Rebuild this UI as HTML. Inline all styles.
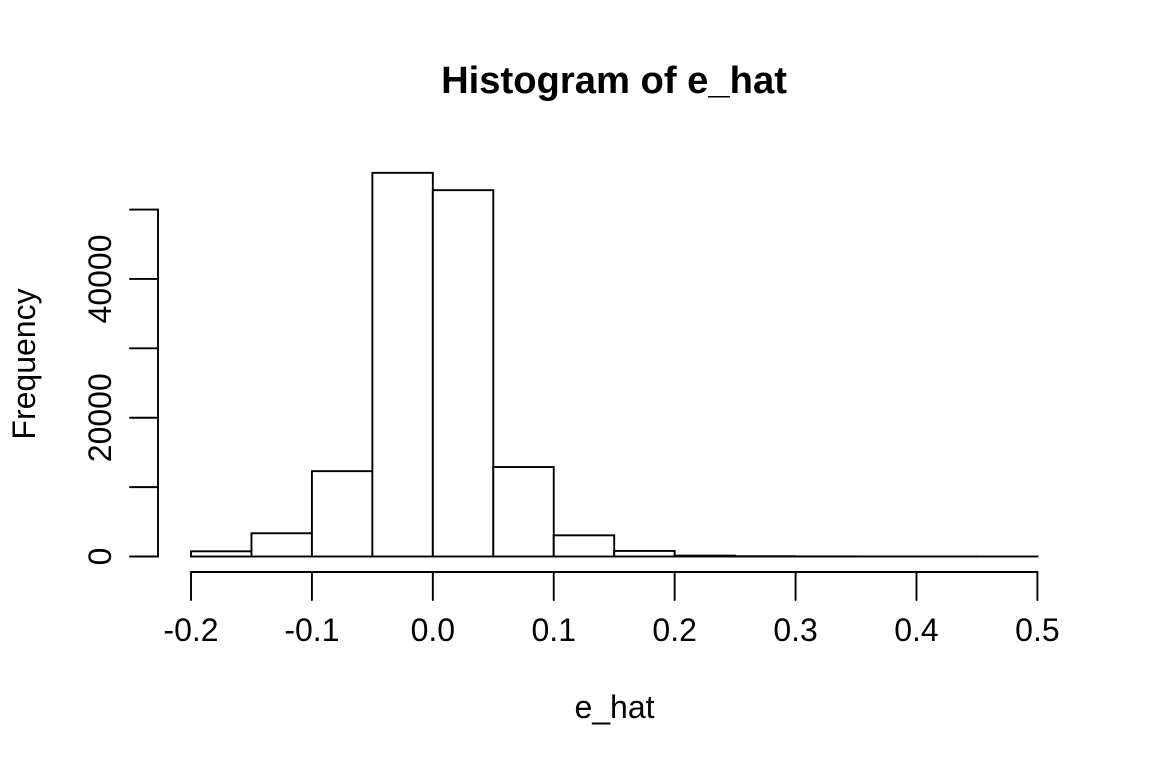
<!DOCTYPE html>
<html>
<head>
<meta charset="utf-8">
<title>Histogram of e_hat</title>
<style>
html,body{margin:0;padding:0;background:#fff;}
svg{display:block;}
text{font-family:"Liberation Sans",sans-serif;fill:#000;}
</style>
</head>
<body>
<svg id="chart" xmlns="http://www.w3.org/2000/svg" width="1152" height="768" viewBox="0 0 1152 768">
<rect x="0" y="0" width="1152" height="768" fill="#fff"/>
<text x="614" y="93" font-size="38.2" font-weight="bold" text-anchor="middle">Histogram of e_hat</text>
<text x="614.5" y="718" font-size="32" text-anchor="middle">e_hat</text>
<text transform="translate(35,364) rotate(-90)" font-size="32" text-anchor="middle">Frequency</text>
<g id="bars"></g>
<g id="xaxis"></g>
<g id="yaxis"></g>
</svg>
<script>
const binEdges = [-0.2,-0.15,-0.1,-0.05,0,0.05,0.1,0.15,0.2,0.25,0.3,0.35,0.4,0.45,0.5];
const binCounts = [750,3350,12300,55300,52800,12900,3050,800,130,40,15,8,4,2];
const xTicks = [-0.2,-0.1,0,0.1,0.2,0.3,0.4,0.5];
const xTickLabels = ["-0.2","-0.1","0.0","0.1","0.2","0.3","0.4","0.5"];
const yTicks = [0,10000,20000,30000,40000,50000];
const yTickLabels = ["0","","20000","","40000",""];

const NS = 'http://www.w3.org/2000/svg';
const xScale = v => 191 + (v + 0.2) * (1037.4 - 191) / 0.7;
const yScale = v => 556.5 - v * (556.5 - 209.6) / 50000;

function make(tag, attrs, parent) {
  const el = document.createElementNS(NS, tag);
  for (const k in attrs) el.setAttribute(k, attrs[k]);
  parent.appendChild(el);
  return el;
}
const stroke = {stroke: '#000', 'stroke-width': 1.9, 'stroke-linecap': 'round', fill: 'none'};

const barsG = document.getElementById('bars');
binCounts.forEach((c, i) => {
  const x0 = xScale(binEdges[i]), x1 = xScale(binEdges[i + 1]);
  const y = yScale(c);
  const r = make('rect', {x: x0, y: y, width: x1 - x0, height: yScale(0) - y, fill: '#fff', stroke: '#000', 'stroke-width': 1.9}, barsG);
  
  
});

const xG = document.getElementById('xaxis');
const xLine = make('line', Object.assign({x1: xScale(xTicks[0]), x2: xScale(xTicks[xTicks.length - 1]), y1: 572, y2: 572}, stroke), xG);


xTicks.forEach((t, i) => {
  const tick = make('line', Object.assign({x1: xScale(t), x2: xScale(t), y1: 572, y2: 600}, stroke), xG);
  
  
  const label = make('text', {x: xScale(t), y: 641, 'font-size': 32, 'text-anchor': 'middle'}, xG);
  label.textContent = xTickLabels[i];
  
  
});

const yG = document.getElementById('yaxis');
const yLine = make('line', Object.assign({x1: 158, x2: 158, y1: yScale(yTicks[0]), y2: yScale(yTicks[yTicks.length - 1])}, stroke), yG);


yTicks.forEach((t, i) => {
  const y = yScale(t);
  const tick = make('line', Object.assign({x1: 130, x2: 158, y1: y, y2: y}, stroke), yG);
  
  
  if (yTickLabels[i]) {
    const label = make('text', {transform: 'translate(111,' + y + ') rotate(-90)', 'font-size': 32, 'text-anchor': 'middle'}, yG);
    label.textContent = yTickLabels[i];
    
    
  }
});
</script>
</body>
</html>
